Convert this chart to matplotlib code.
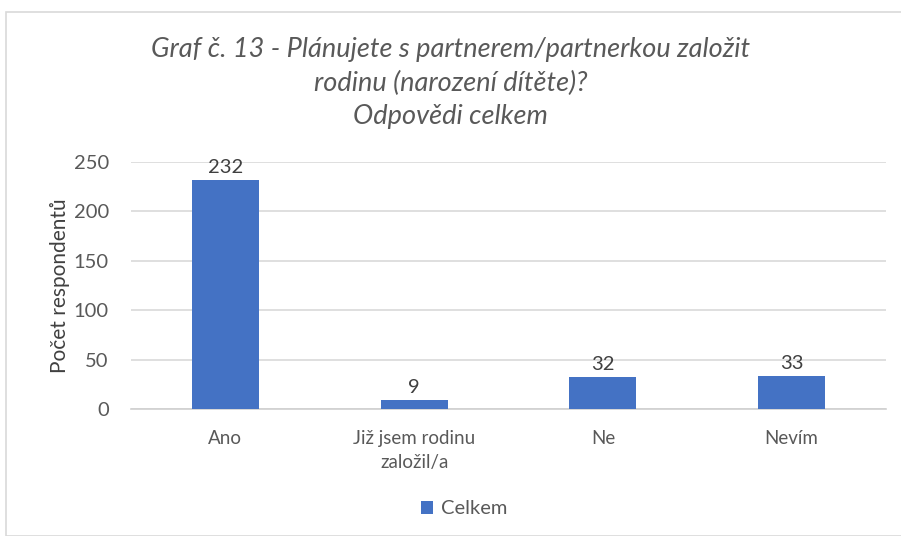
import numpy as np
import matplotlib.pyplot as plt
from matplotlib.patches import Rectangle

categories = ["Ano", "Již jsem rodinu\nzaložil/a", "Ne", "Nevím"]
celkem = [232, 9, 32, 33]
yticks = [0, 50, 100, 150, 200, 250]

title = "Graf č. 13 - Plánujete s partnerem/partnerkou založit\nrodinu (narození dítěte)?\nOdpovědi celkem"

plt.rcParams['font.family'] = ['Lato', 'DejaVu Sans']
text_color = "#595959"

fig = plt.figure(figsize=(9.01, 5.36), dpi=100)
ax = fig.add_axes([0.1454, 0.2369, 0.838, 0.4608])

# chart frame
fig.patches.append(Rectangle((6 / 901, 0), 1.0, 1 - 12 / 536, transform=fig.transFigure,
                             fill=False, edgecolor="#d9d9d9", linewidth=1.2))

x = np.arange(len(categories))
bars = ax.bar(x, celkem, width=0.355, color="#4472c4", label="Celkem", zorder=3)
for b, v in zip(bars, celkem):
    ax.text(b.get_x() + b.get_width() / 2, v + 4, str(v), ha="center", va="bottom",
            fontsize=14.5, color="#404040")

ax.set_xlim(-0.5, len(categories) - 0.5)
ax.set_ylim(0, 250)
ax.set_yticks(yticks)
ax.set_xticks(x)
ax.set_xticklabels(categories, fontsize=13.5, color=text_color, linespacing=1.5)
ax.tick_params(axis="y", labelsize=14.5, labelcolor=text_color, length=0, pad=16)
ax.tick_params(axis="x", length=0, pad=15)
ax.grid(axis="y", color="#d9d9d9", linewidth=1.2, zorder=0)
for s in ["top", "right", "left"]:
    ax.spines[s].set_visible(False)
ax.spines["bottom"].set_color("#d0d0d0")
ax.spines["bottom"].set_linewidth(1.2)

ax.set_ylabel("Počet respondentů", fontsize=15, color="#404040")
ax.yaxis.set_label_coords((70 - 131) / 755, 0.5)

fig.text(0.5, 1 - 83 / 536, title, ha="center", va="center", fontsize=19.5,
         style="italic", color=text_color, linespacing=1.4)

fig.legend(handles=[bars], labels=["Celkem"], loc="center", bbox_to_anchor=(0.515, 1 - 509 / 536),
           frameon=False, fontsize=14.5, labelcolor=text_color, handlelength=0.6, handleheight=0.6,
           handletextpad=0.4)

plt.savefig("out.png", dpi=100)
plt.close()
